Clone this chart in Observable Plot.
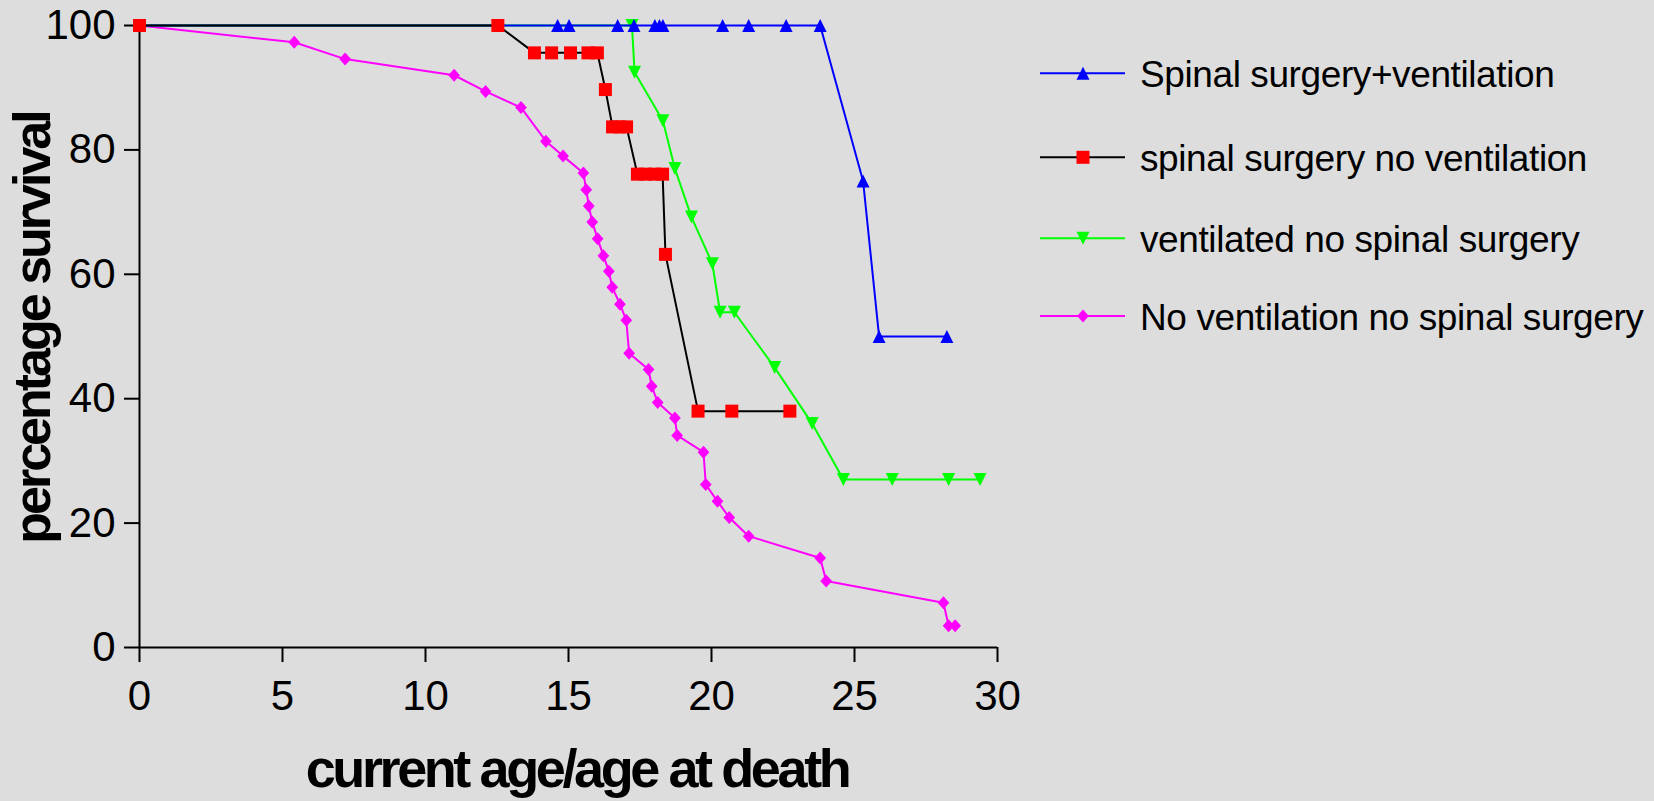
<!DOCTYPE html>
<html>
<head>
<meta charset="utf-8">
<script src="https://cdn.jsdelivr.net/npm/d3@7"></script>
<script src="https://cdn.jsdelivr.net/npm/@observablehq/plot@0.6"></script>
<style>
  html, body { margin: 0; padding: 0; background: #dddddd; }
  #wrap { position: relative; width: 1654px; height: 801px; background: #dddddd; overflow: hidden; }
  #chart { position: absolute; left: 0; top: 0; }
  #legend { position: absolute; left: 1030px; top: 0; }
  text { font-family: "Liberation Sans", Arial, sans-serif; }
</style>
</head>
<body>
<div id="wrap"><div id="chart"></div><div id="legend"></div></div>
<script>
// ---- data ----
const seriesNames = [
  "Spinal surgery+ventilation",
  "spinal surgery no ventilation",
  "ventilated no spinal surgery",
  "No ventilation no spinal surgery"
];
const xTicks = [0, 5, 10, 15, 20, 25, 30];
const yTicks = [0, 20, 40, 60, 80, 100];

const blueX = [0, 14.62, 15.02, 16.72, 17.29, 18.02, 18.18, 18.30, 20.39, 21.30, 22.61, 23.80, 25.30, 25.86, 28.23];
const blueY = [100, 100, 100, 100, 100, 100, 100, 100, 100, 100, 100, 100, 75, 50, 50];

const redX = [0, 12.53, 13.81, 14.41, 15.07, 15.68, 16.01, 16.29, 16.54, 16.78, 17.03, 17.41, 17.69, 18.01, 18.29, 18.39, 19.53, 20.71, 22.74];
const redY = [100, 100, 95.6, 95.6, 95.6, 95.6, 95.6, 89.7, 83.7, 83.7, 83.7, 76.1, 76.1, 76.1, 76.1, 63.2, 38.0, 38.0, 38.0];

const greenX = [0, 17.22, 17.31, 18.30, 18.72, 19.30, 20.03, 20.30, 20.80, 22.21, 23.52, 24.61, 26.32, 28.29, 29.39];
const greenY = [100, 100, 92.5, 84.7, 77.0, 69.2, 61.7, 53.9, 53.9, 45.0, 36.0, 27.0, 27.0, 27.0, 27.0];

const magentaX = [0, 5.41, 7.19, 11.0, 12.1, 13.34, 14.21, 14.81, 15.52, 15.62, 15.71, 15.83, 16.02, 16.22, 16.41, 16.53, 16.80, 17.02, 17.12, 17.80, 17.91, 18.12, 18.72, 18.80, 19.72, 19.80, 20.21, 20.62, 21.30, 23.80, 24.01, 28.11, 28.29, 28.52];
const magentaY = [100, 97.3, 94.6, 92.0, 89.4, 86.8, 81.4, 79.0, 76.3, 73.6, 71.0, 68.4, 65.7, 63.0, 60.5, 57.9, 55.2, 52.6, 47.3, 44.7, 42.0, 39.4, 36.9, 34.1, 31.4, 26.2, 23.5, 20.9, 17.9, 14.4, 10.7, 7.2, 3.5, 3.5];

const rows = (xs, ys) => xs.map((x, i) => ({x, y: ys[i]}));
const blue = rows(blueX, blueY);
const red = rows(redX, redY);
const green = rows(greenX, greenY);
const magenta = rows(magentaX, magentaY);

// ---- custom symbols ----
const rad = size => Math.sqrt(size / Math.PI) * 1.3;
const triUp = {draw(c, s) { const h = rad(s); c.moveTo(0, -h); c.lineTo(h, h); c.lineTo(-h, h); c.closePath(); }};
const triDown = {draw(c, s) { const h = rad(s); c.moveTo(0, h); c.lineTo(h, -h); c.lineTo(-h, -h); c.closePath(); }};
const sq = {draw(c, s) { const h = rad(s); c.rect(-h, -h, 2 * h, 2 * h); }};
const dia = {draw(c, s) { const h = rad(s); c.moveTo(0, -h); c.lineTo(h * 0.9, 0); c.lineTo(0, h); c.lineTo(-h * 0.9, 0); c.closePath(); }};

const styles = [
  {data: blue, line: "#0000ff", fill: "#0000ff", sym: triUp},
  {data: red, line: "#000000", fill: "#ff0000", sym: sq},
  {data: green, line: "#00ff00", fill: "#00ff00", sym: triDown},
  {data: magenta, line: "#ff00ff", fill: "#ff00ff", sym: dia}
];
const drawOrder = [3, 2, 0, 1];

const seriesMarks = drawOrder.flatMap(i => {
  const s = styles[i];
  return [
    Plot.line(s.data, {x: "x", y: "y", stroke: s.line, strokeWidth: 2}),
    Plot.dot(s.data, {x: "x", y: "y", r: 5, symbol: s.sym, fill: s.fill, stroke: "none"})
  ];
});

const chart = Plot.plot({
  width: 1030,
  height: 801,
  marginLeft: 139,
  marginRight: 33,
  marginTop: 25,
  marginBottom: 154,
  x: {domain: [0, 30]},
  y: {domain: [0, 100]},
  style: {background: "#dddddd", color: "black", fontFamily: "'Liberation Sans', Arial, sans-serif", overflow: "visible"},
  marks: [
    Plot.axisX({ticks: xTicks, tickSize: 15, tickPadding: 18, fontSize: 42, label: null, strokeWidth: 2}),
    Plot.axisY({ticks: yTicks, tickSize: 15, tickPadding: 9, fontSize: 42, label: null, strokeWidth: 2}),
    Plot.ruleY([0], {strokeWidth: 2}),
    Plot.ruleX([0], {strokeWidth: 2}),
    ...seriesMarks
  ]
});
document.getElementById("chart").appendChild(chart);

const svg = d3.select(chart);
svg.append("text")
  .attr("transform", "translate(50,328) rotate(-90)")
  .attr("text-anchor", "middle")
  .attr("font-weight", "bold")
  .attr("font-size", 52)
  .attr("letter-spacing", "-3px")
  .attr("fill", "black")
  .text("percentage survival");
svg.append("text")
  .attr("x", 577).attr("y", 787)
  .attr("text-anchor", "middle")
  .attr("font-weight", "bold")
  .attr("font-size", 54)
  .attr("letter-spacing", "-3.4px")
  .attr("fill", "black")
  .text("current age/age at death");

// ---- legend ----
const leg = d3.select("#legend").append("svg")
  .attr("width", 624).attr("height", 360);
const legY = [73.3, 157.3, 238.3, 316];
seriesNames.forEach((name, i) => {
  const s = styles[i];
  const g = leg.append("g").attr("transform", `translate(0,${legY[i]})`);
  g.append("line").attr("x1", 10).attr("x2", 95).attr("y1", 0).attr("y2", 0)
    .attr("stroke", s.line).attr("stroke-width", 2);
  const p = d3.path();
  s.sym.draw(p, Math.PI * 25);
  g.append("path").attr("d", p.toString()).attr("transform", "translate(53,0)").attr("fill", s.fill);
  g.append("text").attr("x", 110).attr("y", 13.5)
    .attr("font-size", 37).attr("letter-spacing", "-0.4px").attr("fill", "black")
    .text(name);
});
</script>
</body>
</html>
